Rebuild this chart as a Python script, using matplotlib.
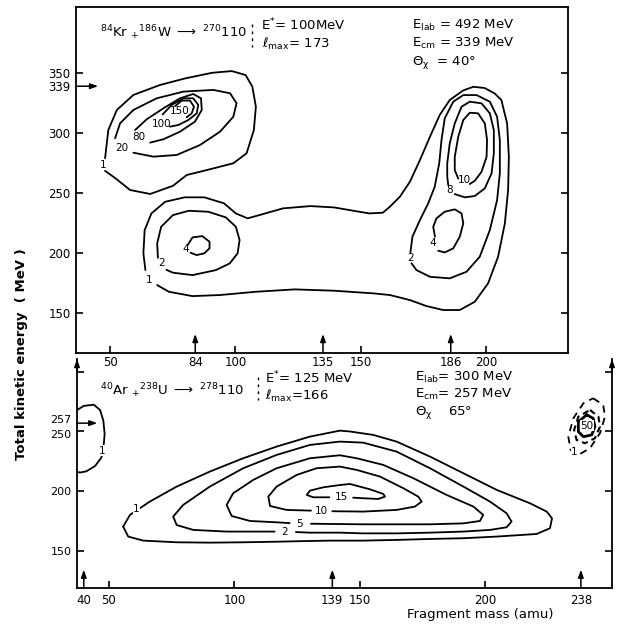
import matplotlib.pyplot as plt
from matplotlib.transforms import ScaledTranslation

# ---------------- top panel: 84Kr + 186W ----------------
# contour lines: fragment mass (amu), TKE (MeV)
kr1_m = [48.0, 49.3, 52.7, 59.3, 69.9, 80.0, 90.8, 98.6, 104.1, 106.8, 108.2, 107.4,
         104.5, 99.2, 89.9, 80.6, 75.1, 66.0, 58.0, 52.0, 48.0]
kr1_t = [279.0, 302.5, 319.2, 331.7, 340.0, 345.5, 350.2, 351.6, 348.3, 338.6, 322.0, 302.5,
         283.1, 274.8, 269.8, 265.0, 256.0, 249.2, 252.5, 262.5, 268.5]
kr20_m = [52.0, 54.0, 59.3, 68.6, 79.3, 91.2, 97.9, 100.5, 99.2, 93.9, 85.9, 76.6, 67.3, 59.3]
kr20_t = [295.6, 308.1, 319.2, 328.9, 334.5, 335.9, 333.1, 324.8, 313.6, 301.1, 290.0, 281.7, 280.3, 283.6]
kr80_m = [60.0, 64.6, 71.3, 77.9, 83.2, 86.3, 86.6, 83.9, 77.9, 71.3, 66.0]
kr80_t = [302.5, 311.4, 320.6, 328.9, 332.5, 328.9, 319.2, 309.5, 301.1, 294.8, 292.0]
kr100_m = [71.0, 74.6, 79.3, 83.2, 85.2, 84.6, 81.3, 77.3, 73.9]
kr100_t = [315.5, 323.4, 328.9, 328.9, 323.4, 316.4, 310.9, 306.7, 305.3]
kr150_m = [76.0, 78.6, 81.9, 83.5, 82.6, 80.6]
kr150_t = [322.5, 327.0, 327.0, 322.0, 316.4, 313.1]

# big level-1 contour joining the low-mass and the high-mass wings
wing1_m = [64.1, 63.3, 63.8, 66.5, 72.0, 79.8, 87.6, 95.5, 100.2, 104.9, 109.6, 119.0,
           130.0, 139.4, 147.2, 153.5, 158.9, 161.7, 165.7, 169.7, 173.7, 177.7, 181.6,
           185.6, 191.0, 195.0, 199.5, 203.5, 206.2, 208.5, 209.2, 208.9, 207.6, 204.9,
           200.9, 195.6, 189.6, 183.0, 176.3, 169.7, 161.7, 155.0, 139.4, 123.7, 108.0,
           93.9, 82.9, 73.5, 68.8]
wing1_t = [185.8, 199.7, 219.1, 233.0, 242.7, 246.4, 246.4, 241.4, 233.0, 228.9, 231.6, 237.2,
           239.1, 238.0, 235.2, 233.0, 233.6, 238.6, 246.9, 259.4, 277.5, 296.9, 315.0,
           327.5, 335.5, 338.5, 337.5, 333.0, 327.5, 308.0, 280.2, 252.5, 224.7, 196.9,
           174.7, 159.4, 152.5, 152.5, 155.8, 160.8, 165.0, 166.4, 168.6, 169.7, 167.7,
           165.0, 164.1, 167.7, 173.3]
lo2_m = [69.1, 68.8, 70.4, 75.1, 81.4, 89.2, 96.2, 100.2, 101.7, 100.9, 97.8, 92.3, 82.9, 75.1, 72.5]
lo2_t = [196.0, 208.0, 221.9, 231.6, 235.2, 234.4, 229.7, 221.9, 210.8, 199.7, 191.4, 185.8, 181.6, 183.6, 186.0]
lo4_m = [81.0, 82.9, 86.8, 89.7, 89.7, 87.6, 84.5, 82.1]
lo4_t = [206.7, 213.0, 214.1, 209.4, 203.9, 199.7, 198.3, 200.3]
hi2_m = [169.9, 170.7, 173.7, 177.0, 179.6, 181.4, 182.3, 183.6, 187.0, 191.0, 196.3, 201.6,
         204.5, 205.6, 205.6, 204.5, 201.6, 197.6, 192.3, 185.6, 177.7, 172.3, 170.3]
hi2_t = [200.5, 213.6, 227.5, 241.4, 255.2, 274.7, 294.1, 312.2, 326.1, 331.6, 331.6, 326.1,
         313.6, 294.1, 266.4, 244.1, 219.1, 197.0, 184.4, 178.9, 180.2, 185.8, 191.5]
hi4_m = [179.7, 179.0, 180.3, 183.6, 187.6, 190.3, 191.0, 189.6, 187.0, 183.6, 181.0]
hi4_t = [213.6, 221.9, 228.9, 234.4, 236.4, 233.0, 224.7, 213.6, 203.9, 200.5, 201.9]
hi8_m = [185.0, 184.6, 184.6, 185.6, 187.6, 190.3, 193.6, 198.3, 201.6, 203.2, 203.2, 202.3,
         199.6, 195.6, 191.6, 187.6]
hi8_t = [256.6, 263.6, 274.7, 291.4, 308.0, 321.9, 326.1, 324.7, 316.4, 302.5, 283.0, 266.4,
         253.9, 247.5, 246.4, 249.1]
hi10_m = [189.0, 187.6, 187.6, 189.0, 191.0, 193.6, 196.9, 199.6, 200.5, 200.3, 198.3, 195.6, 193.6]
hi10_t = [262.0, 269.1, 280.2, 296.9, 310.8, 316.9, 316.4, 308.0, 294.1, 280.2, 267.7, 260.2, 257.5]

top_labels = ['1', '20', '80', '100', '150', '1', '2', '4', '2', '4', '8', '10']
top_label_m = [47.2, 54.7, 61.3, 70.6, 77.8, 65.5, 70.4, 80.1, 169.8, 179.0, 185.4, 191.3]
top_label_t = [273.0, 287.3, 297.0, 307.3, 318.0, 177.5, 191.4, 203.0, 196.0, 208.6, 252.5, 260.5]

# ---------------- bottom panel: 40Ar + 238U ----------------
ar1_m = [55.7, 58.4, 66.3, 77.0, 90.2, 103.5, 116.8, 130.1, 142.0, 146.0, 155.3, 164.6,
         177.9, 191.2, 204.5, 217.7, 224.4, 226.5, 225.7, 220.4, 204.5, 191.2, 177.9,
         164.6, 151.3, 138.1, 130.1, 116.8, 103.5, 90.2, 77.0, 63.7, 57.7, 55.7]
ar1_t = [170.1, 179.9, 191.1, 203.7, 216.3, 227.5, 237.3, 245.7, 250.7, 250.0, 247.1, 241.5,
         228.9, 214.9, 200.9, 189.7, 182.7, 177.0, 168.7, 163.9, 161.7, 160.3, 159.7,
         158.9, 158.3, 158.3, 158.0, 157.4, 156.9, 156.6, 156.9, 158.3, 161.7, 170.1]
ar2_m = [124.5, 130.1, 142.0, 151.3, 164.6, 177.9, 191.2, 201.8, 208.4, 210.4, 208.4, 201.8,
         191.2, 177.9, 164.6, 151.3, 142.0, 130.1, 116.8, 103.5, 90.2, 79.6, 75.6, 77.0,
         83.6, 96.9, 110.2, 116.0]
ar2_t = [165.5, 165.0, 165.0, 164.4, 164.4, 165.0, 165.9, 167.3, 169.5, 174.3, 181.3, 191.1,
         203.7, 219.1, 233.1, 240.6, 241.5, 238.7, 230.3, 219.1, 203.7, 188.3, 178.5, 171.4,
         167.3, 165.9, 165.9, 165.9]
ar5_m = [130.5, 138.1, 151.3, 164.6, 177.9, 191.2, 197.8, 199.1, 195.2, 184.5, 171.3, 159.3,
         148.7, 142.0, 130.1, 116.8, 107.5, 99.5, 96.9, 98.9, 106.2, 116.8, 122.0]
ar5_t = [172.5, 172.3, 172.0, 172.0, 172.0, 172.8, 174.8, 179.9, 186.9, 196.7, 210.7, 221.9,
         227.5, 230.0, 227.5, 219.1, 209.3, 198.1, 188.3, 179.0, 174.8, 173.7, 173.0]
ar10_m = [139.0, 151.3, 164.6, 171.9, 174.6, 173.2, 167.3, 158.0, 148.7, 142.0, 132.7, 124.8,
          116.8, 113.5, 114.2, 120.8, 130.5]
ar10_t = [183.0, 182.7, 184.1, 186.9, 191.1, 195.3, 202.3, 212.1, 217.7, 220.5, 219.1, 213.5,
          203.7, 195.3, 187.4, 184.1, 183.5]
ar15_m = [147.3, 151.3, 157.3, 160.0, 159.3, 154.0, 146.0, 142.0, 135.4, 130.1, 128.8, 131.4, 137.8]
ar15_t = [194.4, 193.9, 193.3, 195.3, 197.5, 201.4, 205.9, 205.0, 203.1, 200.3, 196.7, 194.7, 194.7]

# quasi-elastic peaks near projectile and target
elast_m = [37.3, 40.0, 44.0, 46.5, 47.8, 48.3, 48.0, 47.0, 44.5, 41.0, 38.5, 37.3]
elast_t = [268.0, 271.5, 272.5, 268.0, 259.0, 248.0, 240.0, 228.0, 221.0, 216.5, 215.5, 216.0]
targ1_m = [242.9, 246.9, 247.6, 245.6, 241.6, 237.0, 233.9, 233.0, 235.0, 239.0, 242.9]
targ1_t = [277.9, 272.3, 262.4, 248.5, 235.9, 230.3, 234.5, 245.6, 261.1, 273.7, 277.9]
targ2_m = [241.6, 245.0, 245.6, 243.6, 239.6, 236.3, 235.3, 237.0, 241.6]
targ2_t = [268.1, 262.4, 254.0, 244.3, 240.1, 242.9, 251.3, 262.4, 268.1]
targ3_m = [240.3, 242.9, 243.6, 242.3, 239.0, 237.0, 237.0, 240.3]
targ3_t = [263.9, 261.1, 254.0, 247.1, 245.6, 249.8, 258.2, 263.9]

bot_labels = ['1', '2', '5', '10', '15', '1', '50', '1']
bot_label_m = [61.0, 120.1, 126.1, 134.7, 142.8, 47.5, 240.3, 235.5]
bot_label_t = [185.0, 165.9, 172.3, 183.3, 195.0, 234.0, 255.0, 232.5]

# tick values
top_xticks = [50, 100, 150, 200]
top_xarrows = [84, 135, 186]
top_yticks = [150, 200, 250, 300, 350]
top_yarrow = 339
bot_xticks = [50, 100, 150, 200]
bot_xarrows = [40, 139, 238]
bot_yticks = [150, 200, 250, 300]
bot_yarrow = 257

plt.rcParams['font.family'] = 'DejaVu Sans'
plt.rcParams['mathtext.default'] = 'regular'

fig = plt.figure(figsize=(6.2, 6.24), dpi=100)
ax1 = fig.add_axes([0.1226, 0.4343, 0.7935, 0.5545])
ax2 = fig.add_axes([0.1242, 0.0577, 0.8629, 0.3670])
ax2.set_facecolor('none')

ax1.set_xlim(36.4, 232.8)
ax1.set_ylim(116.7, 405.0)
ax2.set_xlim(37.3, 250.4)
ax2.set_ylim(118.5, 310.9)

line_kw = dict(color='k', lw=1.3, solid_capstyle='round', solid_joinstyle='round')

for m, t in [(kr1_m, kr1_t), (kr20_m, kr20_t), (kr80_m, kr80_t), (kr100_m, kr100_t),
             (kr150_m, kr150_t), (wing1_m, wing1_t), (lo2_m, lo2_t), (lo4_m, lo4_t),
             (hi2_m, hi2_t), (hi4_m, hi4_t), (hi8_m, hi8_t), (hi10_m, hi10_t)]:
    ax1.plot(m, t, **line_kw)

for m, t in [(ar1_m, ar1_t), (ar2_m, ar2_t), (ar5_m, ar5_t), (ar10_m, ar10_t),
             (ar15_m, ar15_t), (elast_m, elast_t)]:
    ax2.plot(m, t, **line_kw)
ax2.plot(targ1_m, targ1_t, color='k', lw=1.3, ls=(0, (4, 3)))
ax2.plot(targ2_m, targ2_t, color='k', lw=1.5, ls=(0, (3, 2)))
ax2.plot(targ3_m, targ3_t, color='k', lw=2.0)

for s, m, t in zip(top_labels, top_label_m, top_label_t):
    ax1.text(m, t, s, fontsize=7.5, ha='center', va='center')
for s, m, t in zip(bot_labels, bot_label_m, bot_label_t):
    ax2.text(m, t, s, fontsize=7.5, ha='center', va='center',
             bbox=dict(fc='white', ec='none', pad=0.3))

# axes, ticks
for ax in (ax1, ax2):
    for sp in ax.spines.values():
        sp.set_linewidth(1.3)
    ax.tick_params(which='major', direction='in', length=5, width=1.2,
                   left=True, right=True, top=False, bottom=True, labelsize=8.5, pad=4)
    ax.tick_params(which='minor', length=0, labelsize=8.5, pad=4)
ax1.tick_params(axis='x', which='both', pad=2)
ax2.spines['top'].set_visible(False)

ax1.set_xticks(top_xticks, [str(v) for v in top_xticks])
ax1.set_xticks(top_xarrows, [str(v) for v in top_xarrows], minor=True)
ax1.set_yticks(top_yticks, [str(v) for v in top_yticks])
ax1.set_yticks([top_yarrow], [str(top_yarrow)], minor=True)

ax2.set_xticks(bot_xticks, [str(v) for v in bot_xticks])
ax2.set_xticks(bot_xarrows, [str(v) for v in bot_xarrows], minor=True)
ax2.set_yticks(bot_yticks, [str(v) if v < 300 else '' for v in bot_yticks])
ax2.set_yticks([bot_yarrow], [str(bot_yarrow)], minor=True)

# the 257 and 250 labels sit almost on top of each other: pull them apart a little
ax2.tick_params(axis='y', which='both', labelsize=8)
for lab in ax2.get_yticklabels(minor=True):
    lab.set_transform(lab.get_transform() + ScaledTranslation(0, 3 / 72, fig.dpi_scale_trans))
for lab in ax2.get_yticklabels():
    if lab.get_text() == '250':
        lab.set_transform(lab.get_transform() + ScaledTranslation(0, -2 / 72, fig.dpi_scale_trans))

arrow_kw = dict(arrowstyle='-|>,head_length=0.45,head_width=0.16', color='k', lw=1.1,
                shrinkA=0, shrinkB=0)
for m in top_xarrows:
    ax1.annotate('', xy=(m, 0.055), xytext=(m, 0.0), xycoords=('data', 'axes fraction'),
                 textcoords=('data', 'axes fraction'), arrowprops=arrow_kw)
for m in bot_xarrows:
    ax2.annotate('', xy=(m, 0.08), xytext=(m, 0.0), xycoords=('data', 'axes fraction'),
                 textcoords=('data', 'axes fraction'), arrowprops=arrow_kw)
ax1.annotate('', xy=(0.045, top_yarrow), xytext=(0.0, top_yarrow),
             xycoords=('axes fraction', 'data'), textcoords=('axes fraction', 'data'),
             arrowprops=arrow_kw)
ax2.annotate('', xy=(0.038, bot_yarrow), xytext=(0.0, bot_yarrow),
             xycoords=('axes fraction', 'data'), textcoords=('axes fraction', 'data'),
             arrowprops=arrow_kw)
# arrow heads on the open top of the lower frame
for xf in (0.0, 1.0):
    ax2.annotate('', xy=(xf, 1.0), xytext=(xf, 0.94), xycoords='axes fraction',
                 arrowprops=arrow_kw, annotation_clip=False)

# reaction information
txt = dict(fontsize=9.5, ha='left', va='center', transform=ax1.transAxes)
ax1.text(0.049, 0.925, r'$^{84}$Kr $_{+}$$^{186}$W $\longrightarrow$ $^{270}$110', **txt)
ax1.text(0.376, 0.948, r'E$^{*}$= 100MeV', **txt)
ax1.text(0.378, 0.893, r'$\ell_{max}$= 173', **txt)
ax1.text(0.683, 0.948, r'E$_{lab}$ = 492 MeV', **txt)
ax1.text(0.683, 0.896, r'E$_{cm}$ = 339 MeV', **txt)
ax1.text(0.683, 0.841, r'$\Theta_{\chi}$  = 40°', **txt)
ax1.plot([0.358, 0.358], [0.95, 0.885], transform=ax1.transAxes, color='k', lw=1,
         ls=(0, (2, 3)))

txt['transform'] = ax2.transAxes
ax2.text(0.043, 0.860, r'$^{40}$Ar $_{+}$$^{238}$U $\longrightarrow$ $^{278}$110', **txt)
ax2.text(0.351, 0.918, r'E$^{*}$= 125 MeV', **txt)
ax2.text(0.351, 0.840, r'$\ell_{max}$=166', **txt)
ax2.text(0.632, 0.918, r'E$_{lab}$= 300 MeV', **txt)
ax2.text(0.632, 0.845, r'E$_{cm}$= 257 MeV', **txt)
ax2.text(0.632, 0.768, r'$\Theta_{\chi}$    65°', **txt)
ax2.plot([0.338, 0.338], [0.92, 0.82], transform=ax2.transAxes, color='k', lw=1,
         ls=(0, (2, 3)))

fig.text(0.035, 0.433, 'Total kinetic energy  ( MeV )', rotation=90, fontsize=9.5,
         fontweight='bold', ha='center', va='center')
fig.text(0.774, 0.016, 'Fragment mass (amu)', fontsize=9.5, ha='center', va='center')

fig.savefig('out.png', dpi=100)
